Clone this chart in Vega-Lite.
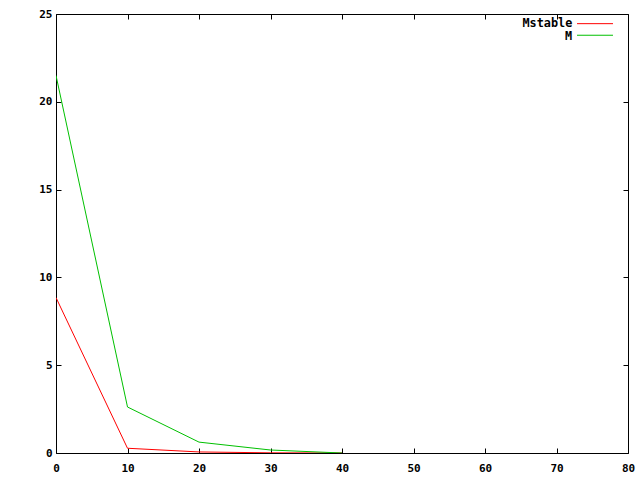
{
  "$schema": "https://vega.github.io/schema/vega-lite/v6.json",
  "width": 572,
  "height": 439,
  "autosize": {"type": "none"},
  "padding": {"left": 56, "top": 14, "right": 12, "bottom": 27},
  "background": "white",
  "config": {
    "view": {"stroke": null},
    "font": "DejaVu Sans Mono",
    "axis": {
      "grid": false,
      "domainColor": "black",
      "tickColor": "black",
      "labelColor": "black",
      "labelFont": "DejaVu Sans Mono",
      "labelFontWeight": "bold",
      "labelFontSize": 11,
      "title": null,
      "tickSize": -5,
      "domainWidth": 1,
      "tickWidth": 1
    }
  },
  "data": {
    "values": [
      {"x": 0, "y": 8.85, "series": "Mstable"},
      {"x": 10, "y": 0.27, "series": "Mstable"},
      {"x": 20, "y": 0.06, "series": "Mstable"},
      {"x": 30, "y": 0.01, "series": "Mstable"},
      {"x": 40, "y": 0.0, "series": "Mstable"},
      {"x": 0, "y": 21.5, "series": "M"},
      {"x": 10, "y": 2.62, "series": "M"},
      {"x": 20, "y": 0.62, "series": "M"},
      {"x": 30, "y": 0.17, "series": "M"},
      {"x": 40, "y": 0.0, "series": "M"}
    ]
  },
  "layer": [
    {
      "mark": {"type": "line", "strokeWidth": 1, "clip": true},
      "encoding": {
        "x": {"field": "x", "type": "quantitative", "scale": {"domain": [0, 80], "nice": false, "zero": false},
              "axis": {"orient": "bottom", "values": [0,10,20,30,40,50,60,70,80], "labelPadding": 14, "labelFlush": false}},
        "y": {"field": "y", "type": "quantitative", "scale": {"domain": [0, 25], "nice": false},
              "axis": {"orient": "left", "values": [0,5,10,15,20,25], "labelPadding": 9}},
        "color": {
          "field": "series", "type": "nominal",
          "scale": {"domain": ["Mstable", "M"], "range": ["#ff0000", "#00c000"]},
          "legend": null
        }
      }
    },
    {
      "mark": {"type": "line", "opacity": 0},
      "encoding": {
        "x": {"field": "x", "type": "quantitative", "scale": {"domain": [0, 80], "nice": false, "zero": false},
              "axis": {"orient": "top", "values": [0,10,20,30,40,50,60,70,80], "labels": false}},
        "y": {"field": "y", "type": "quantitative", "scale": {"domain": [0, 25], "nice": false},
              "axis": {"orient": "right", "values": [0,5,10,15,20,25], "labels": false}},
        "detail": {"field": "series"}
      }
    },
    {
      "data": {"values": [{}]},
      "mark": {"type": "text", "align": "right", "baseline": "middle", "font": "DejaVu Sans Mono", "fontWeight": "bold", "fontSize": 11.8, "color": "black", "text": "Mstable"},
      "encoding": {"x": {"datum": 72.2, "type": "quantitative", "axis": null}, "y": {"datum": 24.48, "type": "quantitative", "axis": null}}
    },
    {
      "data": {"values": [{}]},
      "mark": {"type": "text", "align": "right", "baseline": "middle", "font": "DejaVu Sans Mono", "fontWeight": "bold", "fontSize": 11.8, "color": "black", "text": "M"},
      "encoding": {"x": {"datum": 72.2, "type": "quantitative", "axis": null}, "y": {"datum": 23.76, "type": "quantitative", "axis": null}}
    },
    {
      "data": {"values": [{}]},
      "mark": {"type": "rule", "color": "#ff0000", "strokeWidth": 1},
      "encoding": {"x": {"datum": 72.87, "type": "quantitative", "axis": null}, "x2": {"datum": 77.9}, "y": {"datum": 24.45, "type": "quantitative", "axis": null}}
    },
    {
      "data": {"values": [{}]},
      "mark": {"type": "rule", "color": "#00c000", "strokeWidth": 1},
      "encoding": {"x": {"datum": 72.87, "type": "quantitative", "axis": null}, "x2": {"datum": 77.9}, "y": {"datum": 23.79, "type": "quantitative", "axis": null}}
    }
  ],
  "resolve": {"axis": {"x": "independent", "y": "independent"}}
}
